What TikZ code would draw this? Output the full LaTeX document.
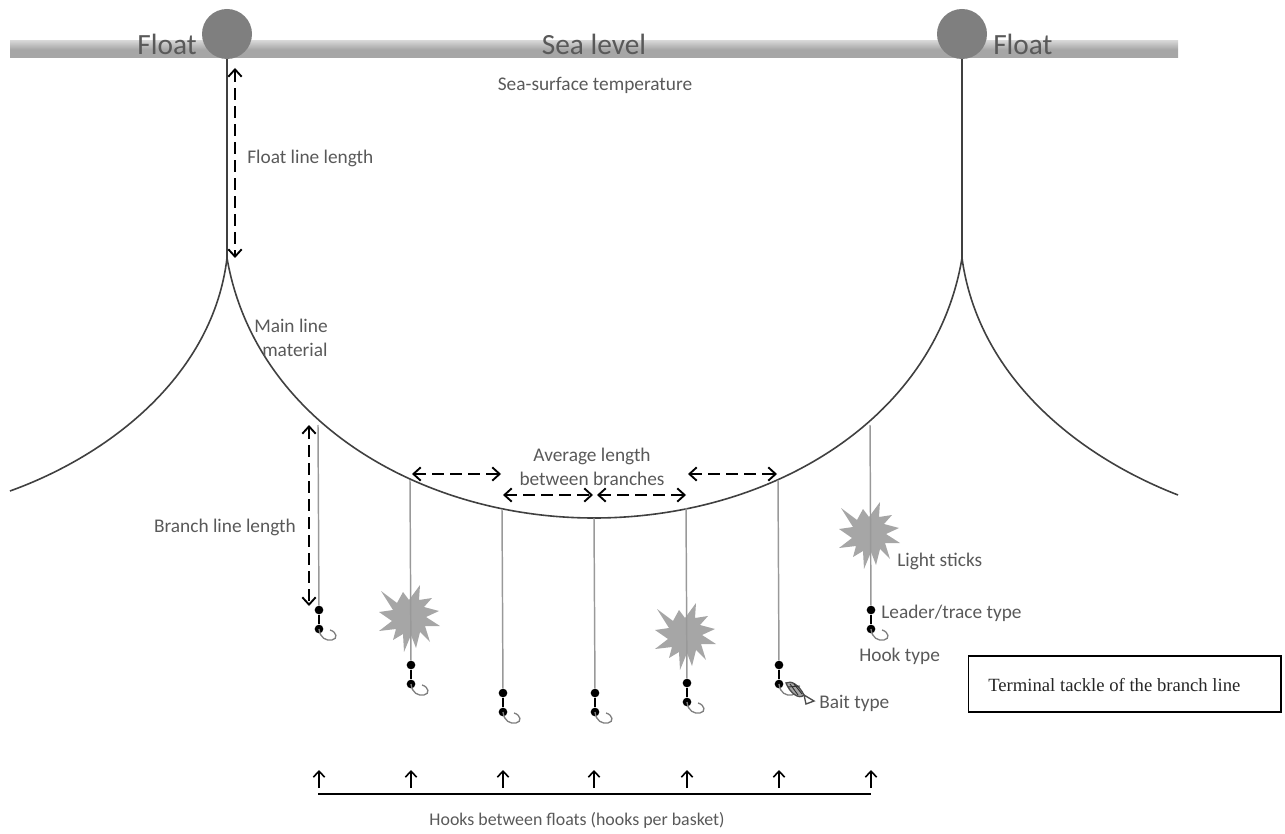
\documentclass[tikz,border=0pt]{standalone}
\usepackage{fontspec}
\setmainfont{Carlito}
\newfontfamily\timesfont{Liberation Serif}
\usetikzlibrary{arrows.meta}
\definecolor{txt}{HTML}{595959}
\definecolor{barmid}{HTML}{A6A6A6}
\definecolor{barout}{HTML}{D4D4D4}
\definecolor{fl}{HTML}{7F7F7F}
\definecolor{st}{HTML}{A6A6A6}
\definecolor{mainln}{HTML}{404040}
\tikzset{
 x=0.75pt,y=-0.75pt,
 lab/.style={text=txt,font=\fontsize{14.5}{18}\selectfont,inner sep=0pt,align=center},
 big/.style={text=txt,font=\fontsize{22}{24}\selectfont,inner sep=0pt},
 floatball/.style={circle,fill=fl,minimum size=37.5pt,inner sep=0pt},
 mainline/.style={draw=mainln,line width=1.2pt},
 floatline/.style={draw=mainln,line width=1.5pt},
 branch/.style={draw=gray!80,line width=1.1pt},
 measure/.style={draw=black,line width=1.4pt,dash pattern=on 9pt off 4.5pt,{Straight Barb[length=5.5pt,width=10pt,line width=1.4pt]}-{Straight Barb[length=5.5pt,width=10pt,line width=1.4pt]}},
 uparrow/.style={draw=black,line width=1.2pt,-{Straight Barb[length=4.5pt,width=8.5pt,line width=1.2pt]}},
 bead/.style={circle,fill=black,minimum width=5.5pt,minimum height=6.5pt,inner sep=0pt},
 lightstar/.pic={\fill[st] (11,-32)--(10,-17)--(23,-19)--(15,-10)--(30,-6)--(17,0)--(31,9)--(16,9)--(21,25)--(11,15)--(7,31)--(2,18)--(-5,35)--(-6,17)--(-16,23)--(-13,12)--(-30,14)--(-17,4)--(-30,-5)--(-16,-7)--(-28,-26)--(-12,-14)--(-6,-25)--(0,-17)--cycle;},
 hookshape/.pic={\draw[gray,line width=1pt] (0,0) .. controls (1,9) and (7,12) .. (13,11) .. controls (19,10) and (18,3) .. (11,1);},
}
\begin{document}
\begin{tikzpicture}
\useasboundingbox (0,0) rectangle (1285,834);
% sea surface
\shade[top color=barout,bottom color=barmid,middle color=barmid] (10,41) rectangle (1178,58);
% floats
\node[floatball] (fa) at (227,34) {};
\node[floatball] (fb) at (962,34) {};
\node[big,anchor=east] (floatL) at (197,44) {Float};
\node[big,anchor=west] (floatR) at (993,44) {Float};
\node[big] (sea) at (594,44) {Sea level};
\node[lab] (sst) at (595,85) {Sea-surface temperature};
% junctions
\coordinate (ja) at (227,258);
\coordinate (jb) at (962,258);
\coordinate (mid) at (594,518);
\coordinate (edgeL) at (10,491);
\coordinate (edgeR) at (1178,495);
\draw[floatline] (fa.south) -- (ja);
\draw[floatline] (fb.south) -- (jb);
\draw[mainline] (ja) .. controls (255,420) and (420,518) .. (mid) .. controls (770,518) and (935,420) .. (jb);
\draw[mainline] (ja) .. controls (213,375) and (110,455) .. (edgeL);
\draw[mainline] (jb) .. controls (978,375) and (1075,455) .. (edgeR);
% stars
\pic at (409,617) {lightstar};
\pic at (685,635) {lightstar};
\pic at (869,534) {lightstar};
% branches
\foreach \n/\x/\top/\ba/\bb in {1/318/425/610/629, 2/410/480/665/684, 3/502/509/693/712, 4/594/518/693/712, 5/686/508/683/702, 6/778/480/665/684, 7/870/425/610/629}{
 \coordinate (top\n) at (\x,\top);
 \node[bead] (ba\n) at (\x+1,\ba) {};
 \node[bead] (bb\n) at (\x+1,\bb) {};
 \draw[branch] (top\n) -- (ba\n);
 \draw[black,line width=1.6pt] (ba\n) -- (bb\n);
 \pic at (\x+1,\bb) {hookshape};
}
% bait fish
\begin{scope}[shift={(785,683)}]
\draw[gray!60!black,line width=1pt,fill=gray!70] (1,0) .. controls (6,-3) and (14,2) .. (19,12) .. controls (14,17) and (5,10) .. (1,0) -- cycle;
\draw[gray!60!black,line width=1pt] (19,12) -- (29,18) -- (21,21) -- cycle;
\draw[black!80,line width=0.7pt] (5,1) -- (13,12) (9,1) -- (17,11) (3,4) -- (15,3);
\end{scope}
% measures
\coordinate (fl1) at (235,68); \coordinate (fl2) at (235,258);
\draw[measure] (fl1) -- (fl2);
\coordinate (bl1) at (309,425); \coordinate (bl2) at (309,606);
\draw[measure] (bl1) -- (bl2);
\coordinate (h1a) at (412,474); \coordinate (h1b) at (501,474);
\coordinate (h2a) at (503,495); \coordinate (h2b) at (593,495);
\coordinate (h3a) at (597,495); \coordinate (h3b) at (686,495);
\coordinate (h4a) at (688,474); \coordinate (h4b) at (777,474);
\draw[measure] (h1a) -- (h1b);
\draw[measure] (h2a) -- (h2b);
\draw[measure] (h3a) -- (h3b);
\draw[measure] (h4a) -- (h4b);
% bottom
\coordinate (bs) at (318,794); \coordinate (be) at (871,794);
\draw[black,line width=1.2pt] (bs) -- (be);
\foreach \n/\x in {1/319,2/411,3/503,4/594,5/687,6/779,7/871}{
 \coordinate (ua\n) at (\x,788); \coordinate (ub\n) at (\x,770);
 \draw[uparrow] (ua\n) -- (ub\n);
}
% labels
\node[lab,anchor=west] (lfl) at (247,158) {Float line length};
\node[lab,align=left,anchor=west] (lml) at (254,338) {Main line\\\hspace{6pt}material};
\node[lab,anchor=east] (lbl) at (296,527) {Branch line length};
\node[lab] (lav) at (592,467) {Average length\\between branches};
\node[lab,anchor=west] (lls) at (897,561) {Light sticks};
\node[lab,anchor=west] (llt) at (881,613) {Leader/trace type};
\node[lab,anchor=west] (lht) at (859,656) {Hook type};
\node[lab,anchor=west] (lbt) at (819,703) {Bait type};
\node[lab,font=\fontsize{13.4}{16}\selectfont] (lhb) at (577,820) {Hooks between floats (hooks per basket)};
\node[draw=black,line width=1.2pt,minimum width=234.5pt,minimum height=42pt,inner sep=0pt,anchor=north west] (box) at (967.5,655) {};
\node[anchor=west,inner sep=0pt,font=\timesfont\fontsize{14}{16}\selectfont,text=black!85] (boxt) at (988,685) {Terminal tackle of the branch line};
\end{tikzpicture}
\end{document}
